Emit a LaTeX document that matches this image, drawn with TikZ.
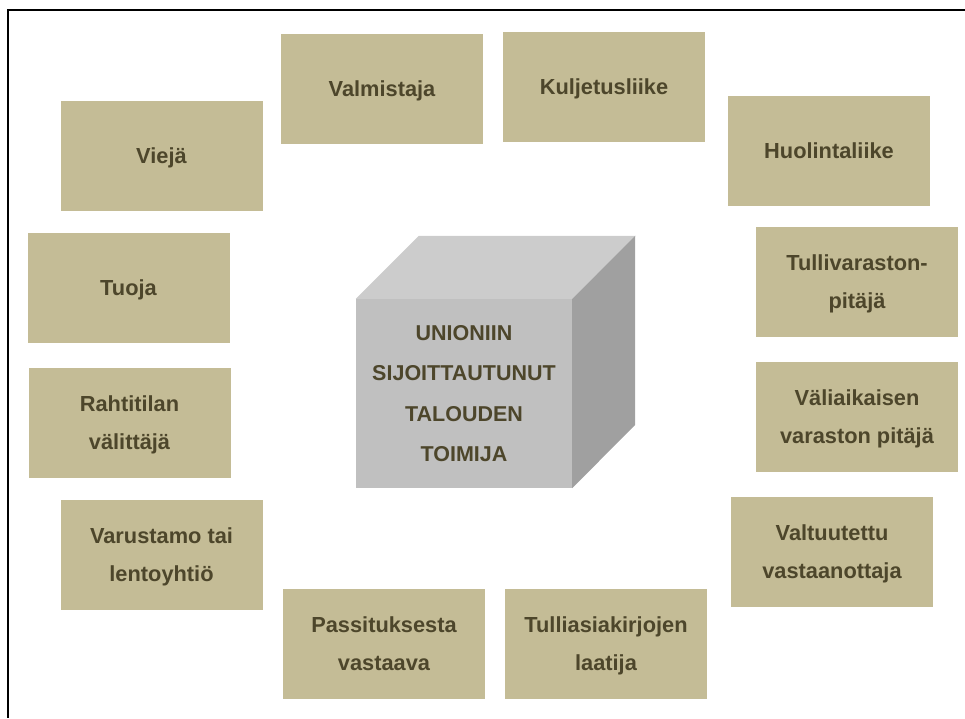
\documentclass[tikz,border=0pt]{standalone}
\usepackage{fontspec}
\setmainfont{Liberation Sans}
\usepackage{xcolor}
\usetikzlibrary{positioning, calc}
\definecolor{boxtan}{HTML}{C4BC96}
\definecolor{textbrown}{HTML}{4D462B}
\definecolor{cubefront}{HTML}{C0C0C0}
\definecolor{cubetop}{HTML}{CCCCCC}
\definecolor{cubeside}{HTML}{A0A0A0}

\begin{document}
\begin{tikzpicture}[
  x=1pt, y=-1pt,
  role/.style={
    rectangle,
    fill=boxtan,
    minimum width=202pt,
    minimum height=110pt,
    align=center,
    text=textbrown,
    text depth=-6pt,
    font=\fontsize{21.8}{38}\selectfont\bfseries,
    inner sep=4pt
  },
  front/.style={
    rectangle,
    fill=cubefront,
    minimum width=216pt,
    minimum height=189pt,
    align=center,
    text=textbrown,
    font=\fontsize{21.5}{40.5}\selectfont\bfseries,
    inner sep=0pt
  }
]
\useasboundingbox (0,0) rectangle (965,718);

% Frame (top and left only)
\draw[line width=2pt] (965,10) -- (8,10) -- (8,718);

% Cube in the middle
\node[front] (cube) at (464,393.5) {UNIONIIN\\SIJOITTAUTUNUT\\TALOUDEN\\TOIMIJA};
\fill[cubetop] (cube.north west) -- ++(63,-63) -- ++(217,0) -- (cube.north east) -- cycle;
\fill[cubeside] (cube.north east) -- ++(63,-63) -- ++(0,189) -- (cube.south east) -- cycle;

% Roles around the cube
\node[role] (valmistaja)   at (382,88.5)  {Valmistaja};
\node[role] (kuljetus)     at (604,87)    {Kuljetusliike};
\node[role] (vieja)        at (161.5,155.5) {Viejä};
\node[role] (huolinta)     at (829,150.5) {Huolintaliike};
\node[role] (tuoja)        at (128.5,288) {Tuoja};
\node[role] (tullivarasto) at (857,282)   {Tullivaraston-\\pitäjä};
\node[role] (rahtitila)    at (129.5,423) {Rahtitilan\\välittäjä};
\node[role] (valiaikainen) at (857,417)   {Väliaikaisen\\varaston pitäjä};
\node[role] (varustamo)    at (161.5,555) {Varustamo tai\\lentoyhtiö};
\node[role] (valtuutettu)  at (832,552)   {Valtuutettu\\vastaanottaja};
\node[role] (passitus)     at (384,643.5) {Passituksesta\\vastaava};
\node[role] (asiakirjat)   at (606,643.5) {Tulliasiakirjojen\\laatija};

\end{tikzpicture}
\end{document}
